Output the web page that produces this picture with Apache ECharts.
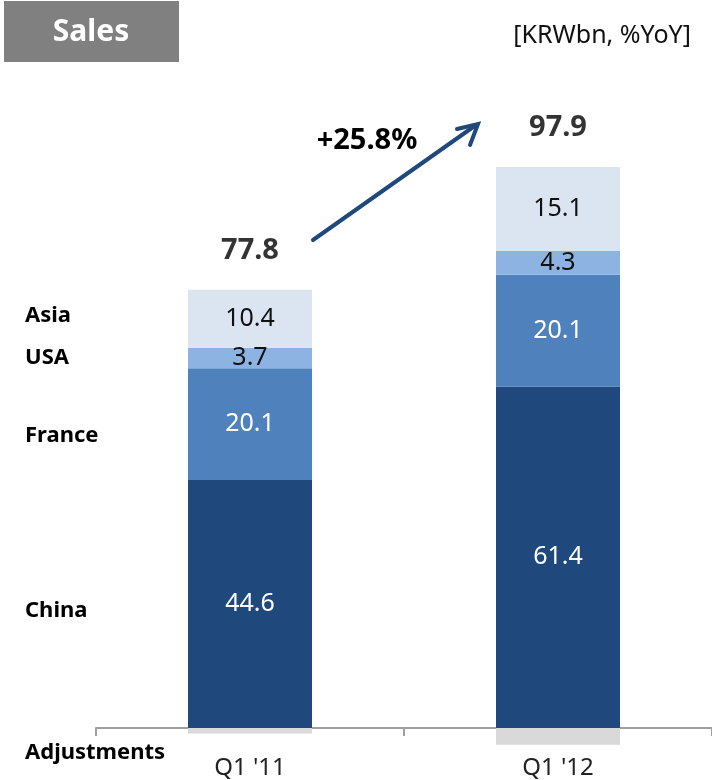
<!DOCTYPE html>
<html>
<head>
<meta charset="utf-8">
<script src="https://cdn.jsdelivr.net/npm/echarts@6/dist/echarts.min.js"></script>
<style>
html,body{margin:0;padding:0;background:#fff;}
#chart{width:712px;height:780px;}
</style>
</head>
<body>
<div id="chart"></div>
<script>
const categories = ["Q1 '11", "Q1 '12"];
const china = [44.6, 61.4];
const france = [20.1, 20.1];
const usa = [3.7, 4.3];
const asia = [10.4, 15.1];
const adjustments = [-1.0, -3.0];
const totals = [77.8, 97.9];
const growthText = '+25.8%';
const seriesNames = ['China', 'France', 'USA', 'Asia', 'Adjustments'];

const stackTops = categories.map((_, i) => +(china[i] + france[i] + usa[i] + asia[i]).toFixed(1));

const FONT = '"Noto Sans", "Open Sans", sans-serif';
const chart = echarts.init(document.getElementById('chart'), null, {renderer: 'canvas'});

function barSeries(name, data, color, labelColor, showLabel) {
  return {
    name: name,
    type: 'bar',
    stack: 'sales',
    barWidth: 124,
    data: data,
    itemStyle: {color: color},
    label: {
      show: showLabel,
      position: 'inside',
      color: labelColor,
      fontFamily: FONT,
      fontSize: 25,
      formatter: p => p.value.toFixed(1)
    },
    emphasis: {disabled: true},
    silent: true
  };
}

const leftLabels = [
  {text: 'Asia', y: 316},
  {text: 'USA', y: 358},
  {text: 'France', y: 436},
  {text: 'China', y: 611},
  {text: 'Adjustments', y: 753}
];

chart.setOption({
  backgroundColor: '#ffffff',
  animation: false,
  grid: {left: 96, right: 0, top: 60.8, bottom: 24.2, containLabel: false, outerBoundsMode: 'none'},
  xAxis: {
    type: 'category',
    data: categories,
    axisLine: {onZero: true, lineStyle: {color: '#A0A0A0', width: 2}},
    axisTick: {show: true, length: 8, lineStyle: {color: '#A0A0A0', width: 2}},
    axisLabel: {color: '#222', fontFamily: FONT, fontSize: 24, margin: 0}
  },
  yAxis: {
    type: 'value',
    min: -5,
    max: 120,
    show: false,
    splitLine: {show: false}
  },
  series: [
    barSeries(seriesNames[0], china, '#1F497D', '#ffffff', true),
    barSeries(seriesNames[1], france, '#4F81BD', '#ffffff', true),
    barSeries(seriesNames[2], usa, '#8DB3E2', '#111111', true),
    barSeries(seriesNames[3], asia, '#DBE5F1', '#111111', true),
    barSeries(seriesNames[4], adjustments, '#D9D9D9', '#111111', false),
    {
      name: 'Total',
      type: 'scatter',
      data: stackTops,
      symbolSize: 0,
      silent: true,
      label: {
        show: true,
        position: 'top',
        distance: 25,
        color: '#000',
        fontFamily: FONT,
        fontWeight: 'bold',
        fontSize: 29,
        formatter: p => totals[p.dataIndex].toFixed(1)
      }
    }
  ],
  graphic: [
    {type: 'rect', left: 4, top: 1, shape: {width: 175, height: 61}, style: {fill: '#808080'}},
    {type: 'text', x: 91, y: 32, style: {text: 'Sales', fill: '#fff', font: 'bold 30px ' + FONT, textAlign: 'center', textVerticalAlign: 'middle'}},
    {type: 'text', x: 691, y: 36, style: {text: '[KRWbn, %YoY]', fill: '#111', font: '25px ' + FONT, textAlign: 'right', textVerticalAlign: 'middle'}},
    {type: 'line', shape: {x1: 313, y1: 240, x2: 476, y2: 125}, style: {stroke: '#1F497D', lineWidth: 4, lineCap: 'round'}},
    {type: 'polyline', shape: {points: [[457, 129], [478, 124], [470, 145]]}, style: {stroke: '#1F497D', lineWidth: 4, fill: null, lineCap: 'round', lineJoin: 'miter'}},
    {type: 'text', x: 367, y: 141, style: {text: growthText, fill: '#000', font: 'bold 29px ' + FONT, textAlign: 'center', textVerticalAlign: 'middle'}}
  ].concat(leftLabels.map(l => ({
    type: 'text', x: 25, y: l.y,
    style: {text: l.text, fill: '#000', font: 'bold 22px ' + FONT, textAlign: 'left', textVerticalAlign: 'middle'}
  })))
});
</script>
</body>
</html>
